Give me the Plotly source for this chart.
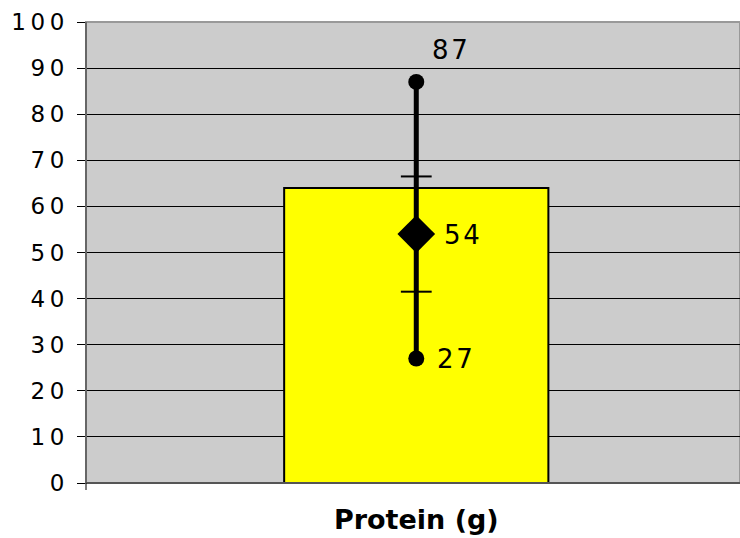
import plotly.graph_objects as go

# Data
categories = ["Protein (g)"]
bar_values = [64]
min_val = [27]
max_val = [87]
mean_val = [54]
sd_low = [41.5]
sd_high = [66.5]
y_ticks = [0, 10, 20, 30, 40, 50, 60, 70, 80, 90, 100]

TS = "\u2009"  # thin space to mimic wide letter spacing
HS = "\u200a"  # hair space


def spaced(s, sep=TS):
    return sep.join(list(str(s)))


FONT = "DejaVu Sans, Verdana, sans-serif"

fig = go.Figure()

fig.add_trace(go.Bar(
    x=categories, y=bar_values, width=0.404,
    marker=dict(color="#ffff00", line=dict(color="#000000", width=2)),
    hoverinfo="skip", showlegend=False,
))

# range line with circle ends
fig.add_trace(go.Scatter(
    x=categories * 2, y=[min_val[0], max_val[0]], mode="lines+markers",
    line=dict(color="#000000", width=5),
    marker=dict(symbol="circle", size=16, color="#000000"),
    showlegend=False, hoverinfo="skip",
))

# SD ticks
fig.add_trace(go.Scatter(
    x=categories * 2, y=[sd_low[0], sd_high[0]], mode="markers",
    marker=dict(symbol="line-ew", size=22, line=dict(color="#000000", width=2)),
    showlegend=False, hoverinfo="skip",
))

# mean diamond
fig.add_trace(go.Scatter(
    x=categories, y=mean_val, mode="markers",
    marker=dict(symbol="diamond", size=29, color="#000000"),
    showlegend=False, hoverinfo="skip",
))

lab_font = dict(family=FONT, size=26, color="#000000")
fig.add_annotation(x=categories[0], y=max_val[0], text=spaced(max_val[0], HS), showarrow=False,
                   xshift=34, yshift=32, font=lab_font)
fig.add_annotation(x=categories[0], y=mean_val[0], text=spaced(mean_val[0], HS), showarrow=False,
                   xshift=46, yshift=-1, font=lab_font)
fig.add_annotation(x=categories[0], y=min_val[0], text=spaced(min_val[0], HS), showarrow=False,
                   xshift=39, yshift=0, font=lab_font)

# plot-area border
fig.add_shape(type="rect", xref="paper", yref="paper", x0=0, x1=1, y0=0, y1=1,
              line=dict(color="#999999", width=2), layer="below")
fig.add_shape(type="line", xref="paper", yref="paper", x0=0, x1=0, y0=0, y1=1,
              line=dict(color="#666666", width=2))
fig.add_shape(type="line", xref="paper", yref="paper", x0=0, x1=1, y0=0, y1=0,
              line=dict(color="#555555", width=2))
# small category boundary tick under the left corner
fig.add_shape(type="line", xref="paper", yref="paper", ysizemode="pixel", yanchor=0,
              x0=0, x1=0, y0=0, y1=-7, line=dict(color="#000000", width=1))

fig.update_layout(
    width=740, height=538,
    margin=dict(l=86, r=0, t=22, b=55, autoexpand=False),
    paper_bgcolor="#ffffff", plot_bgcolor="#cccccc",
    font=dict(family=FONT, color="#000000"),
    xaxis=dict(
        type="category", range=[-0.505, 0.495], automargin=False,
        tickvals=categories, ticktext=["<b>" + c + "</b>" for c in categories],
        tickfont=dict(size=27, family=FONT),
        ticks="", ticklabelstandoff=18,
        showgrid=False, showline=False, zeroline=False,
    ),
    yaxis=dict(
        range=[0, 100], tickvals=y_ticks, ticktext=[spaced(v) for v in y_ticks],
        tickfont=dict(size=23, family=FONT), automargin=False,
        ticks="outside", ticklen=8, tickcolor="#000000",
        ticklabelstandoff=8,
        showgrid=True, gridcolor="#000000", gridwidth=1,
        showline=False, zeroline=False,
    ),
)

fig.write_html(
    "out.html",
    config={"displayModeBar": False},
    post_script="document.body.style.margin='0';document.body.style.overflow='hidden';",
)
